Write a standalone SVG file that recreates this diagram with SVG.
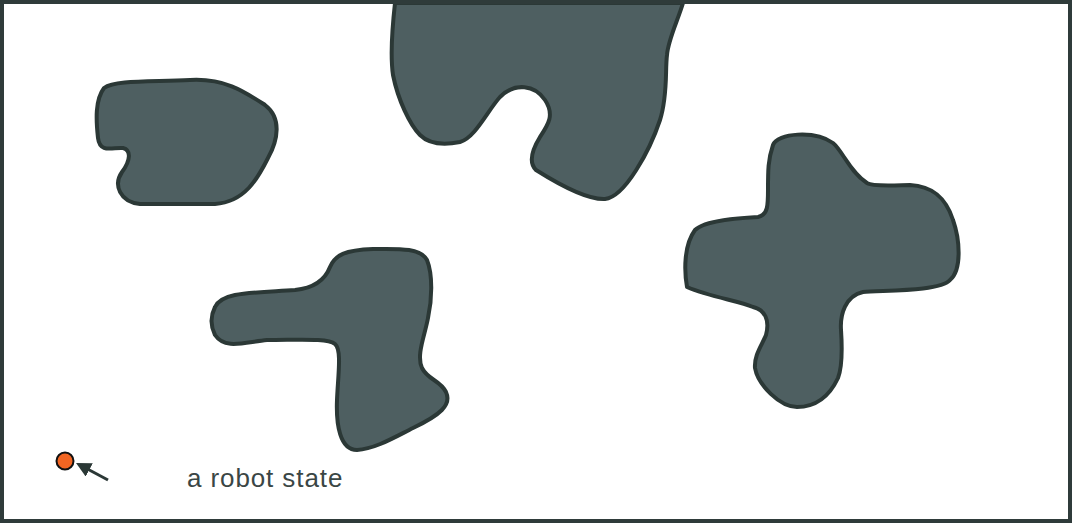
<svg xmlns="http://www.w3.org/2000/svg" width="1072" height="523" viewBox="0 0 1072 523">
<style>
.obs{fill:#4e5f61;stroke:#2b3836;stroke-width:4;stroke-linejoin:round}
.lbl{font-family:"Liberation Sans",Arial,sans-serif;font-size:26px;fill:#3a4645;letter-spacing:0.9px}
</style>
<defs>
<marker id="ah" viewBox="0 0 10 10" refX="7" refY="5" markerWidth="5" markerHeight="5" orient="auto-start-reverse" markerUnits="strokeWidth">
<path d="M0,0 L10,5 L0,10 Z" fill="#2b3836"/>
</marker>
</defs>
<rect x="0" y="0" width="1072" height="523" fill="#ffffff"/>
<g id="obstacle-1">
<path class="obs" d="M104,88 C115,80 150,82 190,80 C225,78 245,92 265,105 C282,118 278,140 268,158 C258,178 245,202 215,204 L140,204 C120,202 113,185 122,172 C131,160 131,150 123,148 C113,147 100,154 98,138 C96,120 95,100 104,88 Z"/>
</g>
<g id="obstacle-2">
<path class="obs" d="M395,3 C392,30 390,55 393,75 C398,100 410,125 420,135 C430,145 445,145 460,142 C475,138 488,110 500,97 C515,82 535,85 545,100 C555,115 548,125 540,137 C532,150 528,162 536,170 C555,182 585,200 605,199 C625,197 650,150 660,120 C668,95 665,70 667,55 C668,40 678,20 683,3 Z"/>
</g>
<g id="obstacle-3">
<path class="obs" d="M773,145 C777,133 815,130 833,143 C842,150 850,172 867,183 C872,187 900,185 910,185 C930,186 945,195 953,220 C960,240 962,270 950,280 C940,292 880,290 863,292 C845,296 840,315 841,330 C842,345 843,365 838,378 C830,395 818,407 797,407 C780,407 758,385 755,368 C754,355 762,345 766,335 C770,320 765,310 753,307 C740,301 710,297 687,287 C684,270 684,245 695,230 C705,220 740,218 758,217 C768,215 768,205 768,190 C768,170 768,160 773,145 Z"/>
</g>
<g id="obstacle-4">
<path class="obs" d="M215,307 C222,292 250,293 295,290 C315,288 325,280 330,267 C335,255 345,250 373,249 C395,249 420,247 427,260 C433,275 432,300 428,318 C425,335 416,355 422,368 C428,380 440,380 446,392 C452,405 440,415 413,428 C395,437 375,449 357,450 C340,450 336,425 337,400 C338,375 342,350 335,344 C328,338 300,340 267,340 C245,342 225,350 215,335 C210,325 211,315 215,307 Z"/>
</g>
<g id="robot">
<circle cx="65" cy="461" r="8.5" fill="#f26522" stroke="#111111" stroke-width="2"/>
</g>
<g id="connectors">
<line x1="108" y1="480" x2="80" y2="465" stroke="#2b3836" stroke-width="3" marker-end="url(#ah)"/>
</g>
<g id="label">
<text class="lbl" x="187" y="487">a robot state</text>
</g>
<rect x="2" y="2" width="1068" height="519" fill="none" stroke="#2f3b3a" stroke-width="4"/>
</svg>
